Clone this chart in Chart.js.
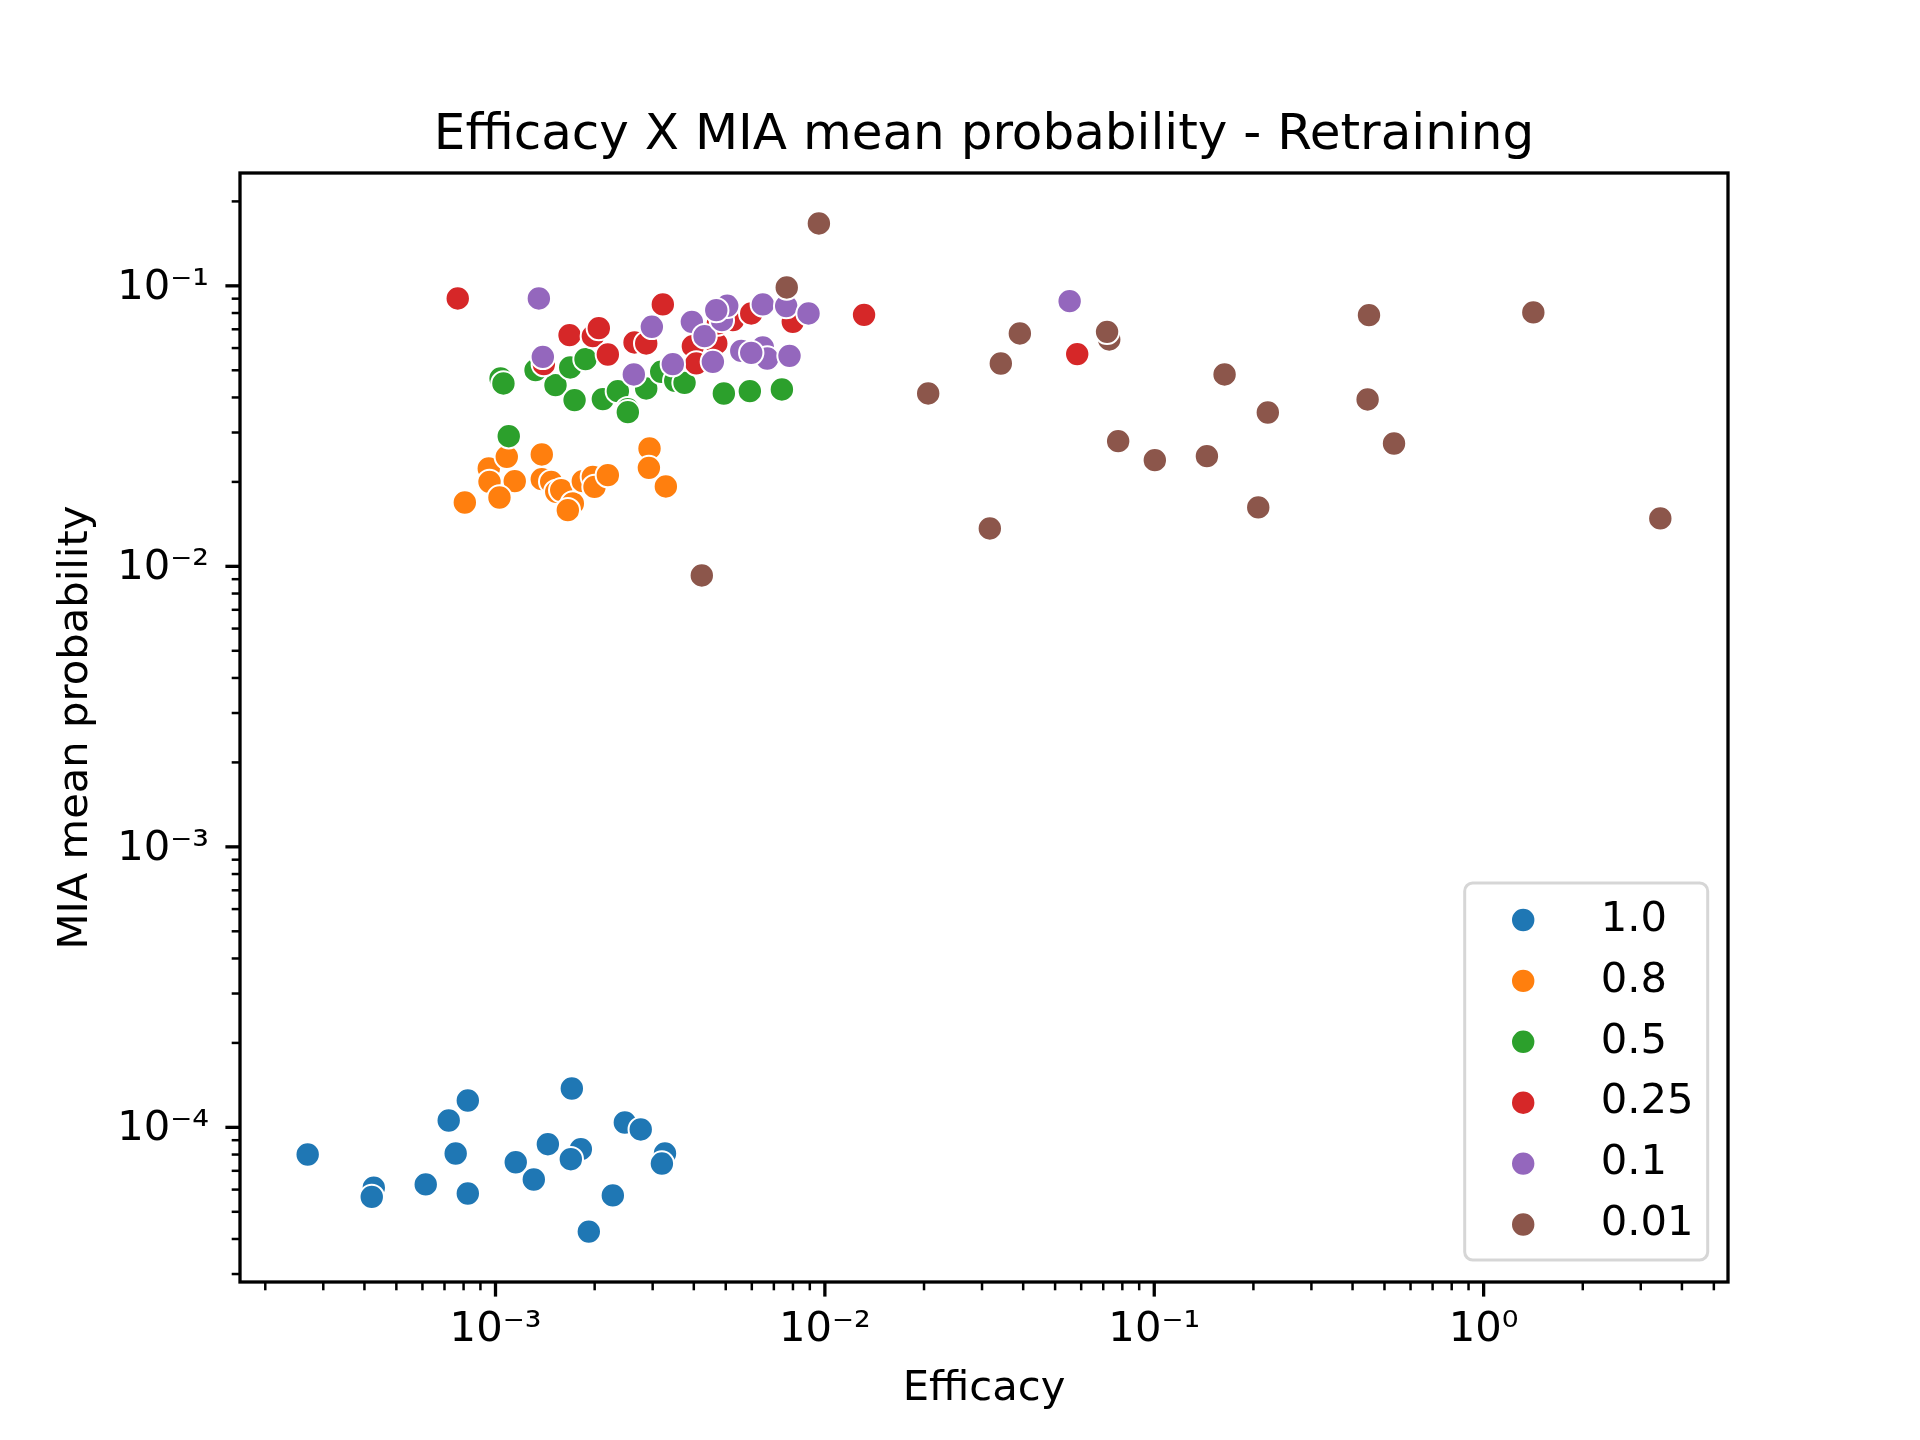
<!DOCTYPE html>
<html>
<head>
<meta charset="utf-8">
<script src="https://cdn.jsdelivr.net/npm/chart.js@4.4.1/dist/chart.umd.min.js"></script>
<style>
  html, body { margin: 0; padding: 0; background: #ffffff; }
  #wrap { width: 1920px; height: 1440px; position: relative; }
  canvas { display: block; }
</style>
</head>
<body>
<div id="wrap"><canvas id="c" width="1920" height="1440" style="width:1920px;height:1440px"></canvas></div>
<script>
// ---------------- data ----------------
const seriesLabels = ['1.0', '0.8', '0.5', '0.25', '0.1', '0.01'];
const seriesColors = ['#1f77b4', '#ff7f0e', '#2ca02c', '#d62728', '#9467bd', '#8c564b'];

const efficacy_1_0 = [2.69e-4, 4.27e-4, 4.21e-4, 6.14e-4, 7.21e-4, 8.24e-4, 7.57e-4, 8.24e-4, 1.152e-3, 1.307e-3,
  1.442e-3, 1.705e-3, 1.816e-3, 1.693e-3, 1.920e-3, 2.271e-3, 2.47e-3, 2.76e-3, 3.27e-3, 3.20e-3];
const mia_1_0 = [8.0e-5, 6.09e-5, 5.65e-5, 6.26e-5, 1.058e-4, 1.247e-4, 8.07e-5, 5.81e-5, 7.51e-5, 6.52e-5,
  8.71e-5, 1.376e-4, 8.36e-5, 7.70e-5, 4.25e-5, 5.72e-5, 1.041e-4, 9.83e-5, 8.07e-5, 7.43e-5];

const efficacy_0_8 = [8.07e-4, 9.54e-4, 9.59e-4, 1.082e-3, 1.144e-3, 1.028e-3, 1.382e-3, 1.382e-3, 1.476e-3, 1.529e-3,
  1.583e-3, 1.717e-3, 1.658e-3, 1.841e-3, 1.975e-3, 1.998e-3, 2.193e-3, 2.935e-3, 2.922e-3, 3.290e-3];
const mia_0_8 = [0.01689, 0.02234, 0.02001, 0.02457, 0.02012, 0.01760, 0.02506, 0.02046, 0.02001, 0.01843,
  0.01870, 0.01676, 0.01586, 0.02012, 0.02085, 0.01920, 0.02114, 0.02632, 0.02245, 0.01927];

const efficacy_0_5 = [1.036e-3, 1.057e-3, 1.323e-3, 1.521e-3, 1.686e-3, 1.876e-3, 1.738e-3, 2.118e-3, 2.352e-3, 2.522e-3,
  2.522e-3, 2.868e-3, 3.185e-3, 3.513e-3, 3.749e-3, 4.935e-3, 5.918e-3, 7.404e-3, 1.097e-3];
const mia_0_5 = [0.04676, 0.04488, 0.05006, 0.04426, 0.05118, 0.05479, 0.03914, 0.03947, 0.04213, 0.03634,
  0.03546, 0.04307, 0.04937, 0.04584, 0.04510, 0.04133, 0.04213, 0.04272, 0.02911];

const efficacy_0_25 = [7.68e-4, 1.678e-3, 1.975e-3, 2.059e-3, 3.221e-3, 2.193e-3, 2.643e-3, 2.868e-3, 1.402e-3, 3.974e-3,
  4.070e-3, 4.680e-3, 4.733e-3, 5.256e-3, 5.976e-3, 7.99e-3, 0.01315, 0.05836];
const mia_0_25 = [0.09018, 0.06670, 0.06616, 0.07067, 0.08585, 0.05691, 0.06284, 0.06233, 0.05259, 0.06095,
  0.05290, 0.06233, 0.07345, 0.07545, 0.07972, 0.07441, 0.07880, 0.05711];

const efficacy_0_1 = [1.354e-3, 1.392e-3, 2.983e-3, 2.630e-3, 3.946e-3, 4.312e-3, 4.866e-3, 5.053e-3, 3.454e-3, 4.57e-3,
  5.574e-3, 6.48e-3, 6.683e-3, 7.81e-3, 6.48e-3, 7.63e-3, 8.92e-3, 5.976e-3, 0.05535, 4.68e-3];
const mia_0_1 = [0.09018, 0.05581, 0.07143, 0.04832, 0.07441, 0.06616, 0.07545, 0.08488, 0.05259, 0.05359,
  0.05862, 0.06031, 0.05509, 0.05628, 0.08585, 0.08466, 0.07972, 0.05768, 0.08820, 0.08192];

const efficacy_0_01 = [9.59e-3, 7.66e-3, 4.23e-3, 0.03908, 0.03421, 0.02059, 0.0730, 0.0719, 0.0777, 0.1004,
  0.1445, 0.1635, 0.2212, 0.2069, 0.4487, 0.4444, 0.5345, 1.4155, 3.439, 0.03168];
const mia_0_01 = [0.1669, 0.09870, 0.00928, 0.06766, 0.05288, 0.04134, 0.06440, 0.06855, 0.02794, 0.02391,
  0.02471, 0.04832, 0.03536, 0.01622, 0.07860, 0.03936, 0.02742, 0.08042, 0.01482, 0.01365];

const xValues = [efficacy_1_0, efficacy_0_8, efficacy_0_5, efficacy_0_25, efficacy_0_1, efficacy_0_01];
const yValues = [mia_1_0, mia_0_8, mia_0_5, mia_0_25, mia_0_1, mia_0_01];

const xRange = [1.676e-4, 5.52];
const yRange = [2.81e-5, 0.2525];

const titleText = 'Efficacy X MIA mean probability - Retraining';
const xTitle = 'Efficacy';
const yTitle = 'MIA mean probability';

// ---------------- helpers ----------------
const FONT = '"DejaVu Sans", "Liberation Sans", sans-serif';
const SUP = {'-': '\u207B', '0': '\u2070', '1': '\u00B9', '2': '\u00B2', '3': '\u00B3', '4': '\u2074',
  '5': '\u2075', '6': '\u2076', '7': '\u2077', '8': '\u2078', '9': '\u2079'};
function isPow10(v) {
  const l = Math.log10(v);
  return Math.abs(l - Math.round(l)) < 1e-9;
}
function powLabel(v) {
  const e = String(Math.round(Math.log10(v)));
  return '10' + e.split('').map(c => SUP[c]).join('');
}
function logTickList(min, max) {
  const out = [];
  for (let e = Math.floor(Math.log10(min)); e <= Math.ceil(Math.log10(max)); e++) {
    for (let m = 1; m <= 9; m++) {
      const v = m * Math.pow(10, e);
      if (v >= min && v <= max) out.push({ value: v, major: m === 1 });
    }
  }
  return out;
}

const datasets = seriesLabels.map((lab, i) => ({
  label: lab,
  data: xValues[i].map((x, j) => ({ x: x, y: yValues[i][j] })),
  backgroundColor: seriesColors[i],
  borderColor: '#ffffff',
  borderWidth: 2,
  pointRadius: 12.2,
  pointHoverRadius: 12.2,
  showLine: false,
  order: seriesLabels.length - i
}));

// --------------- decorations (spines, tick marks, legend) ---------------
const mplDecor = {
  id: 'mplDecor',
  afterDatasetsDraw(chart) {
    const ctx = chart.ctx;
    const ca = chart.chartArea;
    ctx.save();
    // tick marks
    ctx.strokeStyle = '#000';
    const xs = chart.scales.x, ys = chart.scales.y;
    xs.ticks.forEach(t => {
      const p = xs.getPixelForValue(t.value);
      const major = isPow10(t.value);
      ctx.lineWidth = major ? 3.3 : 2.5;
      ctx.beginPath();
      ctx.moveTo(p, ca.bottom);
      ctx.lineTo(p, ca.bottom + (major ? 14.6 : 8.3));
      ctx.stroke();
    });
    ys.ticks.forEach(t => {
      const p = ys.getPixelForValue(t.value);
      const major = isPow10(t.value);
      ctx.lineWidth = major ? 3.3 : 2.5;
      ctx.beginPath();
      ctx.moveTo(ca.left, p);
      ctx.lineTo(ca.left - (major ? 14.6 : 8.3), p);
      ctx.stroke();
    });
    // spines
    ctx.lineWidth = 3.3;
    ctx.strokeRect(ca.left, ca.top, ca.right - ca.left, ca.bottom - ca.top);

    // legend
    const lw = 243, lh = 377;
    const lx = ca.right - 20.3 - lw, ly = ca.bottom - 22 - lh;
    ctx.beginPath();
    ctx.roundRect(lx, ly, lw, lh, 8);
    ctx.fillStyle = 'rgba(255,255,255,0.8)';
    ctx.fill();
    ctx.lineWidth = 3;
    ctx.strokeStyle = 'rgba(204,204,204,0.8)';
    ctx.stroke();
    ctx.font = '41.7px ' + FONT;
    ctx.textBaseline = 'alphabetic';
    ctx.textAlign = 'left';
    seriesLabels.forEach((lab, i) => {
      const cy = ly + 37 + i * 60.9;
      ctx.beginPath();
      ctx.arc(lx + 58.5, cy, 12.2, 0, Math.PI * 2);
      ctx.fillStyle = seriesColors[i];
      ctx.fill();
      ctx.lineWidth = 2;
      ctx.strokeStyle = '#ffffff';
      ctx.stroke();
      ctx.fillStyle = '#000';
      ctx.fillText(lab, lx + 136, cy + 10.7);
    });
    ctx.restore();
  }
};

const tickFont = { family: FONT, size: 41.7, weight: 'normal' };

new Chart(document.getElementById('c'), {
  type: 'scatter',
  data: { datasets: datasets },
  options: {
    responsive: false,
    devicePixelRatio: 1,
    animation: false,
    layout: { padding: { left: 48, right: 0, top: 0, bottom: 0 } },
    plugins: {
      legend: { display: false },
      tooltip: { enabled: false },
      title: {
        display: true,
        text: titleText,
        color: '#000',
        font: { family: FONT, size: 50, weight: 'normal' },
        padding: { top: 106, bottom: 7 }
      }
    },
    scales: {
      x: {
        type: 'logarithmic',
        position: 'bottom',
        min: xRange[0],
        max: xRange[1],
        grid: { display: false, drawTicks: true, tickLength: 14.6 },
        border: { display: false },
        ticks: {
          autoSkip: false, maxRotation: 0, minRotation: 0, padding: 8.7,
          color: '#000', font: tickFont,
          callback: (v) => isPow10(v) ? powLabel(v) : ''
        },
        title: { display: true, text: xTitle, color: '#000', font: tickFont, padding: { top: 0, bottom: 26 } },
        afterBuildTicks: (s) => { s.ticks = logTickList(xRange[0], xRange[1]); },
        afterFit: (s) => { s.height = 158; }
      },
      y: {
        type: 'logarithmic',
        position: 'left',
        min: yRange[0],
        max: yRange[1],
        grid: { display: false, drawTicks: true, tickLength: 14.6 },
        border: { display: false },
        ticks: {
          autoSkip: false, padding: 16.4, labelOffset: 2,
          color: '#000', font: tickFont,
          callback: (v) => isPow10(v) ? powLabel(v) : ''
        },
        title: { display: true, text: yTitle, color: '#000', font: tickFont, padding: { top: 3.5, bottom: 0 } },
        afterBuildTicks: (s) => { s.ticks = logTickList(yRange[0], yRange[1]); },
        afterFit: (s) => { s.width = 192; }
      },
      yRight: {
        type: 'linear',
        position: 'right',
        display: true,
        grid: { display: false, drawTicks: false },
        border: { display: false },
        ticks: { display: false },
        afterFit: (s) => { s.width = 192; }
      }
    }
  },
  plugins: [mplDecor]
});
</script>
</body>
</html>
